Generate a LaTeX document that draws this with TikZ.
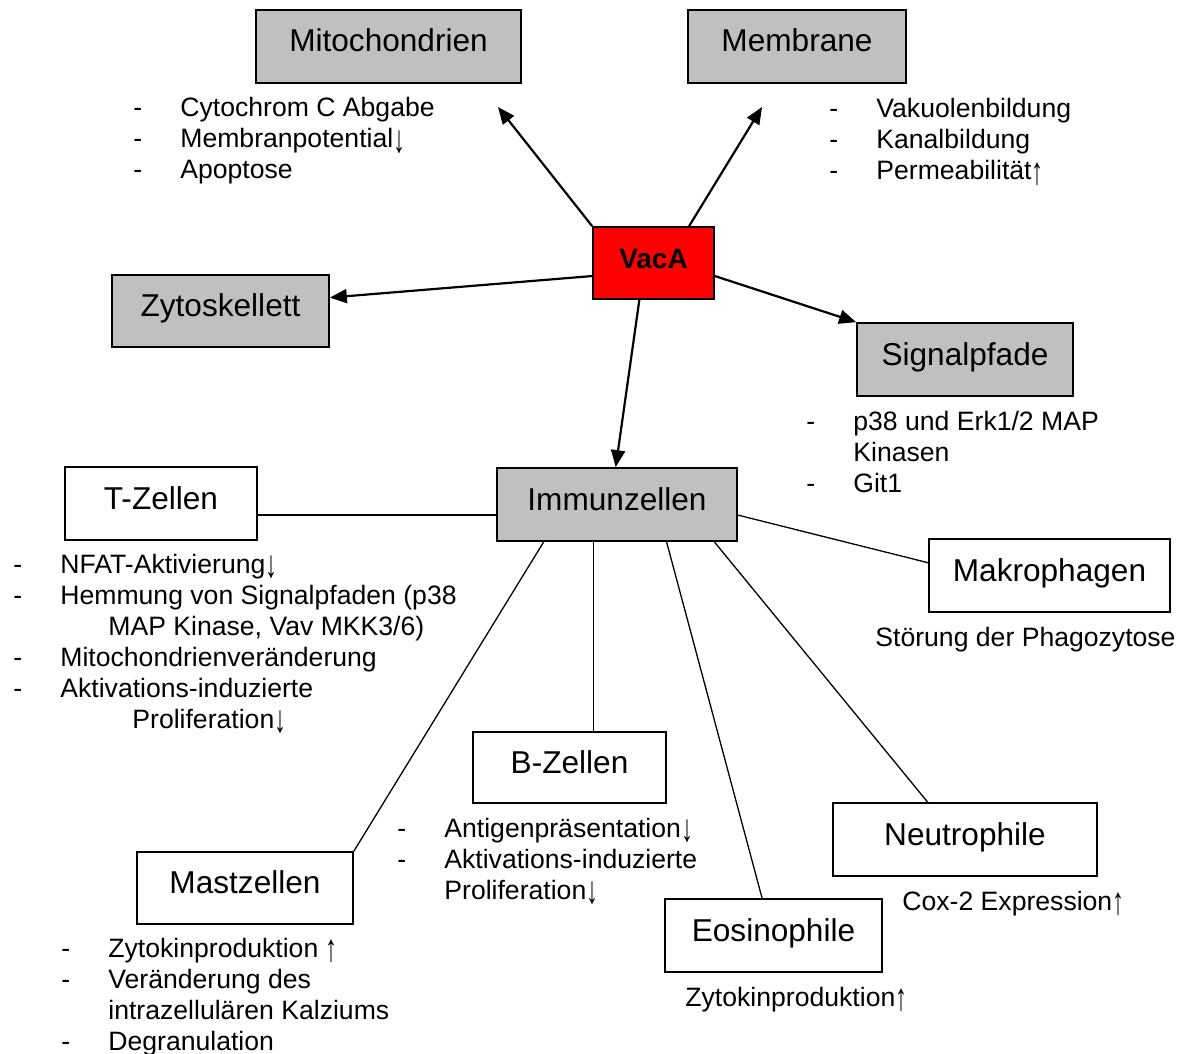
\documentclass[tikz,border=0pt]{standalone}
\usepackage{fontspec}
\setmainfont{Liberation Sans}
\usetikzlibrary{arrows.meta}
\definecolor{boxgrey}{RGB}{192,192,192}
\newcommand{\dashitem}[1]{\makebox[23.5pt][l]{-}#1}
\newcommand{\dashcont}[1]{\hspace*{23.5pt}#1}
\newcommand{\arrdown}{\raisebox{-0.35ex}{\scalebox{0.9}[1.45]{↓}}}
\newcommand{\arrup}{\raisebox{-0.35ex}{\scalebox{0.9}[1.45]{↑}}}

\begin{document}
\begin{tikzpicture}[x=0.5pt, y=-0.5pt,
  box/.style={draw, line width=0.85pt, inner sep=0pt, minimum height=36.5pt,
    text height=11.5pt, text depth=6pt, font=\fontsize{15.8pt}{19pt}\selectfont},
  greybox/.style={box, fill=boxgrey},
  whitebox/.style={box, fill=white},
  note/.style={anchor=base west, inner sep=0pt, font=\fontsize{13.3pt}{15.5pt}\selectfont},
  effect/.style={-{Triangle[length=8.5pt, width=7pt]}, line width=1.1pt},
  link/.style={line width=0.65pt}]
  \useasboundingbox (0,0) rectangle (1183,1054);

  \node[greybox, minimum width=132.5pt] (mito) at (388.5,46.5) {Mitochondrien};
  \node[greybox, minimum width=109pt] (membr) at (797,46.5) {Membrane};
  \node[box, fill=red, minimum width=60.5pt, minimum height=36pt,
        font=\fontsize{14pt}{17pt}\selectfont\bfseries] (vaca) at (653.5,263) {VacA};
  \node[greybox, minimum width=108.5pt, minimum height=36pt] (zyto) at (220.5,311) {Zytoskellett};
  \node[greybox, minimum width=108pt] (signal) at (965,359.5) {Signalpfade};
  \node[greybox, minimum width=120pt] (immun) at (617,504.5) {Immunzellen};

  \node[whitebox, minimum width=96pt] (tz) at (161,503.5) {T-Zellen};
  \node[whitebox, minimum width=120.5pt] (makro) at (1049.5,575.5) {Makrophagen};
  \node[whitebox, minimum width=96.5pt, minimum height=35.5pt] (bz) at (569.5,767.5) {B-Zellen};
  \node[whitebox, minimum width=108pt, minimum height=36pt] (mast) at (245,888) {Mastzellen};
  \node[whitebox, minimum width=132pt] (neut) at (965,839.5) {Neutrophile};
  \node[whitebox, minimum width=108.5pt] (eos) at (773.5,935.5) {Eosinophile};

  \node[note] (mitolist) at (133,117) {\begin{tabular}[t]{@{}l@{}}
    \dashitem{Cytochrom C Abgabe}\\
    \dashitem{Membranpotential\arrdown}\\
    \dashitem{Apoptose}
  \end{tabular}};
  \node[note] (membrlist) at (829,118) {\begin{tabular}[t]{@{}l@{}}
    \dashitem{Vakuolenbildung}\\
    \dashitem{Kanalbildung}\\
    \dashitem{Permeabilität\arrup}
  \end{tabular}};
  \node[note] (signallist) at (806,430) {\begin{tabular}[t]{@{}l@{}}
    \dashitem{p38 und Erk1/2 MAP}\\
    \dashcont{Kinasen}\\
    \dashitem{Git1}
  \end{tabular}};
  \node[note] (tzlist) at (13,573) {\begin{tabular}[t]{@{}l@{}}
    \dashitem{NFAT-Aktivierung\arrdown}\\
    \dashitem{Hemmung von Signalpfaden (p38}\\
    \dashcont{\hspace*{24pt}MAP Kinase, Vav MKK3/6)}\\
    \dashitem{Mitochondrienveränderung}\\
    \dashitem{Aktivations-induzierte}\\
    \dashcont{\hspace*{36pt}Proliferation\arrdown}
  \end{tabular}};
  \node[note] (bzlist) at (397,837) {\begin{tabular}[t]{@{}l@{}}
    \dashitem{Antigenpräsentation\arrdown}\\
    \dashitem{Aktivations-induzierte}\\
    \dashcont{Proliferation\arrdown}
  \end{tabular}};
  \node[note] (mastlist) at (61,957) {\begin{tabular}[t]{@{}l@{}}
    \dashitem{Zytokinproduktion \arrup}\\
    \dashitem{Veränderung des}\\
    \dashcont{intrazellulären Kalziums}\\
    \dashitem{Degranulation}
  \end{tabular}};
  \node[note] (makronote) at (875,646) {Störung der Phagozytose};
  \node[note] (neutnote) at (902,910) {Cox-2 Expression\arrup};
  \node[note] (eosnote) at (685,1006) {Zytokinproduktion\arrup};

  \coordinate (mitoin) at (498,107);
  \coordinate (membrin) at (762,107);

  \draw[effect] (vaca.north west) -- (mitoin);
  \draw[effect] (vaca.46) -- (membrin);
  \draw[effect] (vaca.192) -- (zyto.7);
  \draw[effect] (vaca.-12) -- (signal.north west);
  \draw[effect] (vaca.-111) -- (immun.92);

  \draw[link] (immun.185) -- (immun.185 -| tz.east);
  \draw[link] (immun.-153) -- (mast.north east);
  \draw[link] (immun.-122) -- (immun.-122 |- bz.north);
  \draw[link] (immun.-37) -- (eos.107);
  \draw[link] (immun.-21) -- (neut.135);
  \draw[link] (immun.-5) -- (makro.174);
\end{tikzpicture}
\end{document}
